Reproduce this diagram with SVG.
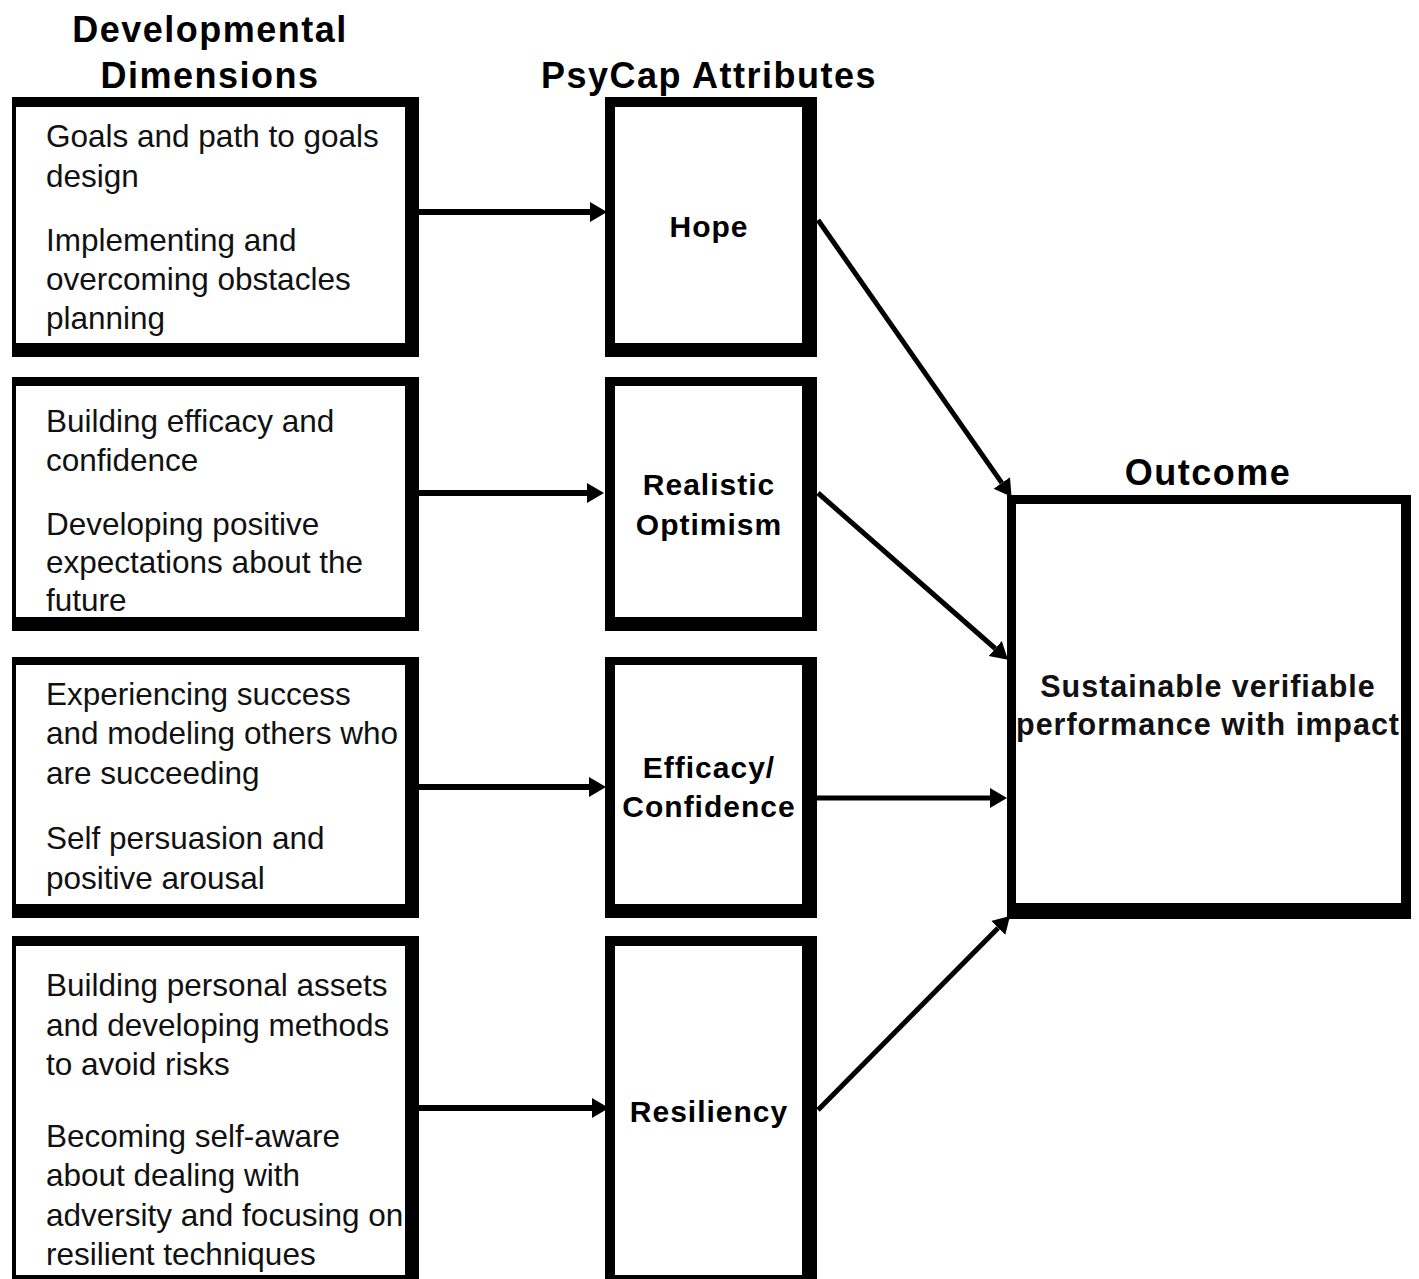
<svg xmlns="http://www.w3.org/2000/svg" width="1419" height="1279" viewBox="0 0 1419 1279">
<style>
.frame{fill:#000}
.inner{fill:#fff}
.hdr{font-family:"Liberation Sans",Arial,sans-serif;font-weight:bold;font-size:36px;letter-spacing:1.5px;fill:#000;text-anchor:middle}
.body{font-family:"Liberation Sans",Arial,sans-serif;font-size:31.5px;fill:#111}
.lbl{font-family:"Liberation Sans",Arial,sans-serif;font-weight:bold;font-size:30px;letter-spacing:1px;fill:#000;text-anchor:middle}
.out{font-family:"Liberation Sans",Arial,sans-serif;font-weight:bold;font-size:30.5px;letter-spacing:1px;fill:#111;text-anchor:middle}
.conn{stroke:#000;fill:none}
.h{stroke-width:6}
.d{stroke-width:5}
</style>
<defs>
<marker id="ah" markerUnits="userSpaceOnUse" markerWidth="18" markerHeight="22" refX="0" refY="10" orient="auto">
<path d="M0,0 L17,10 L0,20 z" fill="#000"/>
</marker>
<clipPath id="outclip"><rect x="1016" y="504" width="385" height="399"/></clipPath>
</defs>
<rect width="1419" height="1279" fill="#fff"/>

<g id="headers">
<text class="hdr" x="210" y="42">Developmental</text>
<text class="hdr" x="210" y="88">Dimensions</text>
<text class="hdr" x="709" y="88">PsyCap Attributes</text>
<text class="hdr" x="1208" y="485">Outcome</text>
</g>

<g id="dev1">
<rect class="frame" x="12" y="97" width="407" height="260"/>
<rect class="inner" x="16" y="107" width="389" height="236"/>
<text class="body" x="46" y="147">Goals and path to goals</text>
<text class="body" x="46" y="187">design</text>
<text class="body" x="46" y="251">Implementing and</text>
<text class="body" x="46" y="290">overcoming obstacles</text>
<text class="body" x="46" y="329">planning</text>
</g>

<g id="dev2">
<rect class="frame" x="12" y="377" width="407" height="254"/>
<rect class="inner" x="16" y="386" width="389" height="231"/>
<text class="body" x="46" y="432">Building efficacy and</text>
<text class="body" x="46" y="471">confidence</text>
<text class="body" x="46" y="535">Developing positive</text>
<text class="body" x="46" y="573">expectations about the</text>
<text class="body" x="46" y="611">future</text>
</g>

<g id="dev3">
<rect class="frame" x="12" y="657" width="407" height="261"/>
<rect class="inner" x="16" y="665" width="389" height="239"/>
<text class="body" x="46" y="705">Experiencing success</text>
<text class="body" x="46" y="744">and modeling others who</text>
<text class="body" x="46" y="784">are succeeding</text>
<text class="body" x="46" y="849">Self persuasion and</text>
<text class="body" x="46" y="889">positive arousal</text>
</g>

<g id="dev4">
<rect class="frame" x="12" y="936" width="407" height="354"/>
<rect class="inner" x="16" y="946" width="389" height="329"/>
<text class="body" x="46" y="996">Building personal assets</text>
<text class="body" x="46" y="1036">and developing methods</text>
<text class="body" x="46" y="1075">to avoid risks</text>
<text class="body" x="46" y="1147">Becoming self-aware</text>
<text class="body" x="46" y="1186">about dealing with</text>
<text class="body" x="46" y="1226">adversity and focusing on</text>
<text class="body" x="46" y="1265">resilient techniques</text>
</g>

<g id="hope">
<rect class="frame" x="605" y="97" width="212" height="260"/>
<rect class="inner" x="615" y="107" width="187" height="236"/>
<text class="lbl" x="709" y="237">Hope</text>
</g>

<g id="optimism">
<rect class="frame" x="605" y="377" width="212" height="254"/>
<rect class="inner" x="615" y="386" width="187" height="231"/>
<text class="lbl" x="709" y="495">Realistic</text>
<text class="lbl" x="709" y="535">Optimism</text>
</g>

<g id="efficacy">
<rect class="frame" x="605" y="657" width="212" height="261"/>
<rect class="inner" x="615" y="665" width="187" height="239"/>
<text class="lbl" x="709" y="778">Efficacy/</text>
<text class="lbl" x="709" y="817">Confidence</text>
</g>

<g id="resiliency">
<rect class="frame" x="605" y="936" width="212" height="354"/>
<rect class="inner" x="615" y="946" width="187" height="329"/>
<text class="lbl" x="709" y="1122">Resiliency</text>
</g>

<g id="outcome">
<rect class="frame" x="1007" y="495" width="404" height="424"/>
<rect class="inner" x="1016" y="504" width="385" height="399"/>
<g clip-path="url(#outclip)">
<text class="out" x="1208" y="697">Sustainable verifiable</text>
<text class="out" x="1208" y="735">performance with impact</text>
</g>
</g>

<g id="connectors">
<line class="conn h" x1="419" y1="212" x2="590" y2="212" marker-end="url(#ah)"/>
<line class="conn h" x1="419" y1="493" x2="587" y2="493" marker-end="url(#ah)"/>
<line class="conn h" x1="419" y1="787" x2="589" y2="787" marker-end="url(#ah)"/>
<line class="conn h" x1="419" y1="1108" x2="592" y2="1108" marker-end="url(#ah)"/>
<line class="conn d" x1="818" y1="220" x2="1001.8" y2="482.9" marker-end="url(#ah)"/>
<line class="conn d" x1="818" y1="493" x2="995.2" y2="648.5" marker-end="url(#ah)"/>
<line class="conn d" x1="817" y1="798" x2="990" y2="798" marker-end="url(#ah)"/>
<line class="conn d" x1="818" y1="1110" x2="998.1" y2="928" marker-end="url(#ah)"/>
</g>
</svg>
